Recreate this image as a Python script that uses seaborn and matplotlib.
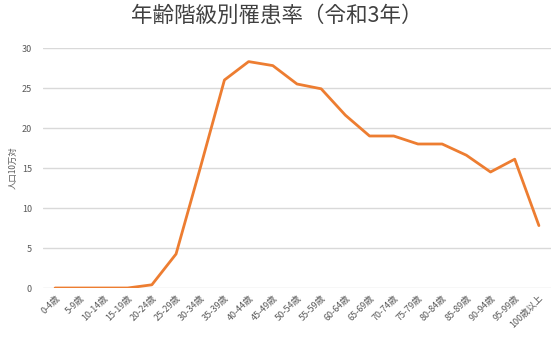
import matplotlib
matplotlib.use("Agg")
import matplotlib.pyplot as plt
import seaborn as sns
import pandas as pd

categories = ["0-4歳", "5-9歳", "10-14歳", "15-19歳", "20-24歳", "25-29歳", "30-34歳",
              "35-39歳", "40-44歳", "45-49歳", "50-54歳", "55-59歳", "60-64歳", "65-69歳",
              "70-74歳", "75-79歳", "80-84歳", "85-89歳", "90-94歳", "95-99歳", "100歳以上"]
values = [0, 0, 0, 0, 0.4, 4.25, 15.0, 26.0, 28.3, 27.8, 25.5, 24.9, 21.6, 19.0,
          19.0, 18.0, 18.0, 16.6, 14.5, 16.1, 7.8]
yticks = [0, 5, 10, 15, 20, 25, 30]

sns.set_theme(style="white")
plt.rcParams['font.family'] = ['Noto Sans CJK JP', 'DejaVu Sans']

df = pd.DataFrame({"age": categories, "rate": values, "x": range(len(categories))})

fig = plt.figure(figsize=(5.54, 3.41), dpi=100)
ax = fig.add_axes([43/554, 1-288/341, (551-43)/554, 240/341])
sns.lineplot(data=df, x="x", y="rate", ax=ax, color="#ED7D31", linewidth=2)

ax.set_xlim(-0.5, len(categories)-0.5)
ax.set_ylim(0, 30)
ax.set_yticks(yticks)
ax.set_yticklabels([str(t) for t in yticks], fontsize=6.5, color="#595959")
ax.set_xticks(range(len(categories)))
ax.set_xticklabels(categories, rotation=45, ha="right", rotation_mode="anchor",
                   fontsize=6.5, color="#595959")
ax.tick_params(axis="both", length=0, pad=4)
ax.tick_params(axis="y", pad=8)
for s in ax.spines.values():
    s.set_visible(False)
ax.grid(axis="y", color="#D9D9D9", linewidth=1)
ax.set_axisbelow(True)
ax.set_xlabel("")
ax.set_ylabel("人口10万対", fontsize=6, color="#595959")
ax.yaxis.set_label_coords(-0.05, 0.5)
fig.suptitle("年齢階級別罹患率（令和3年）", fontsize=15.5, color="#404040", y=0.985)

fig.savefig("out.png", dpi=100)
